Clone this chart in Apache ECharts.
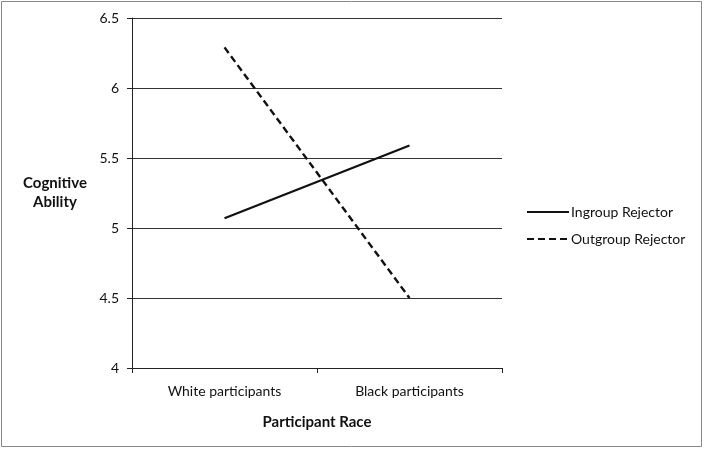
<!DOCTYPE html>
<html>
<head>
<meta charset="utf-8">
<script src="https://cdn.jsdelivr.net/npm/echarts@6/dist/echarts.min.js"></script>
<style>
  html, body { margin: 0; padding: 0; background: #fff; }
  #chart { width: 704px; height: 449px; }
</style>
</head>
<body>
<div id="chart"></div>
<script>
// data
let categories = ["White participants", "Black participants"];
let ingroup = [5.07, 5.59];
let outgroup = [6.29, 4.5];
let yTicks = { min: 4, max: 6.5, step: 0.5 };

let font = "Lato";

var myChart = echarts.init(document.getElementById("chart"));

let option = {
    animation: false,
    textStyle: { fontFamily: font },
    grid: { left: 132, right: 202, top: 18, bottom: 81 },
    legend: {
        orient: 'vertical',
        left: 526,
        top: 205,
        padding: 0,
        itemWidth: 42,
        itemHeight: 14,
        itemGap: 13,
        itemStyle: { opacity: 0 },
        textStyle: { fontFamily: font, fontSize: 14, color: '#111', padding: [0, 0, 0, -3] },
        data: ['Ingroup Rejector', 'Outgroup Rejector']
    },
    xAxis: {
        type: 'category',
        data: categories,
        boundaryGap: true,
        axisLine: { lineStyle: { color: '#222', width: 1 } },
        axisTick: { show: true, length: 5, lineStyle: { color: '#222' } },
        axisLabel: { fontFamily: font, fontSize: 14, color: '#111', margin: 16 },
        name: 'Participant Race',
        nameLocation: 'middle',
        nameGap: 47,
        nameTextStyle: { fontFamily: font, fontSize: 15, fontWeight: 'bold', color: '#111' }
    },
    yAxis: {
        type: 'value',
        min: yTicks.min,
        max: yTicks.max,
        interval: yTicks.step,
        axisLine: { show: true, lineStyle: { color: '#222', width: 1 } },
        axisTick: { show: true, length: 5, lineStyle: { color: '#222' } },
        axisLabel: { fontFamily: font, fontSize: 14, color: '#111', margin: 13 },
        splitLine: { lineStyle: { color: '#333', width: 1 } },
        name: 'Cognitive\nAbility',
        nameLocation: 'middle',
        nameRotate: 0,
        nameGap: 77,
        nameTextStyle: { fontFamily: font, fontSize: 15, fontWeight: 'bold', color: '#111', align: 'center', lineHeight: 19 }
    },
    series: [
        {
            name: 'Ingroup Rejector',
            type: 'line',
            data: ingroup,
            symbol: 'none',
            lineStyle: { color: '#111', width: 2.2, type: 'solid' },
            itemStyle: { color: '#111' }
        },
        {
            name: 'Outgroup Rejector',
            type: 'line',
            data: outgroup,
            symbol: 'none',
            lineStyle: { color: '#111', width: 2.4, type: [7, 4] },
            itemStyle: { color: '#111' }
        }
    ],
    graphic: [
        {
            type: 'rect',
            shape: { x: 1.5, y: 1.5, width: 700, height: 445 },
            style: { fill: 'none', stroke: '#888', lineWidth: 1 },
            silent: true
        }
    ]
};

myChart.setOption(option);
</script>
</body>
</html>
